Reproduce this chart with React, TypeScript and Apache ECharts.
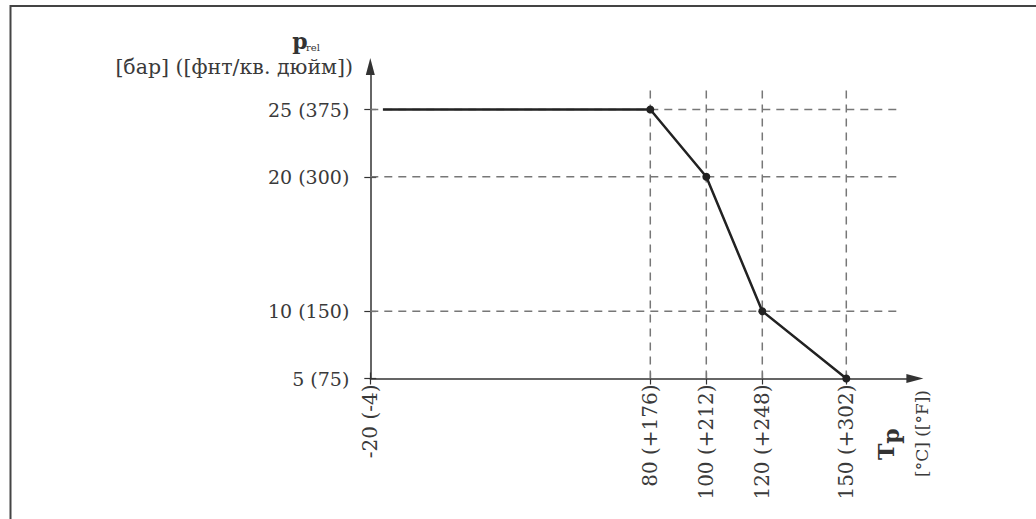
import { useEffect, useRef } from 'react';
import * as echarts from 'echarts';

// ---- data ----
const tempC = [-20, 80, 100, 120, 150];
const tempF = [-4, 176, 212, 248, 302];
const presBar = [5, 10, 20, 25];
const presPsi = [75, 150, 300, 375];
const curveT = [-15.5, 80, 100, 120, 150];
const curveP = [25, 25, 20, 10, 5];
const gridLineP = [10, 20, 25];
const gridLineT = [80, 100, 120, 150];
const xMin = -20;
const xMax = 174.5;
const yMin = 5;
const yMax = 28.2;
const gridEndT = 168.5;
const gridEndP = 26.6;

const FONT = 'DejaVu Serif';
const TXT = '#3a3a3a';

const fmtT = (v: number) => {
  const i = tempC.indexOf(v);
  if (i < 0) return '';
  const f = tempF[i];
  return `${v} (${f > 0 ? '+' : ''}${f})`;
};
const fmtP = (v: number) => {
  const i = presBar.indexOf(v);
  if (i < 0) return '';
  return `${v} (${presPsi[i]})`;
};

export default function App() {
  const ref = useRef<HTMLDivElement>(null);
  useEffect(() => {
    if (!ref.current) return;
    const chart = echarts.init(ref.current, undefined, { renderer: 'svg' });
    const gridBox = { left: 370.3, right: 121.1, top: 66.5, bottom: 140.5 };
    const dash = { type: [8, 6] as any, color: '#777', width: 1.5 };
    const series: any[] = [];
    gridLineP.forEach((p) => {
      series.push({
        type: 'line', xAxisIndex: 0, yAxisIndex: 0, silent: true, z: 1,
        symbol: 'none', data: [[xMin, p], [gridEndT, p]], lineStyle: dash,
      });
    });
    gridLineT.forEach((t) => {
      series.push({
        type: 'line', xAxisIndex: 0, yAxisIndex: 0, silent: true, z: 1,
        symbol: 'none', data: [[t, yMin], [t, gridEndP]], lineStyle: dash,
      });
    });
    series.push({
      type: 'line', xAxisIndex: 0, yAxisIndex: 0, z: 3,
      data: curveT.map((t, i) => ({ value: [t, curveP[i]], symbol: i === 0 ? 'none' : 'circle' })),
      symbolSize: 8,
      itemStyle: { color: '#222' },
      lineStyle: { color: '#222', width: 2.5 },
    });
    // dummy for second grid
    series.push({ type: 'line', xAxisIndex: 1, yAxisIndex: 1, data: [], silent: true });

    const axisLine = {
      show: true,
      onZero: false,
      symbol: ['none', 'triangle'],
      symbolSize: [9, 17],
      lineStyle: { color: '#333', width: 1.5 },
    };
    const tickStyle = { color: '#333', width: 1.2 };

    chart.setOption({
      animation: false,
      backgroundColor: '#fff',
      grid: [
        { ...gridBox, outerBoundsMode: 'none' },
        { ...gridBox, outerBoundsMode: 'none' },
      ],
      xAxis: [
        {
          type: 'value', gridIndex: 0, min: xMin, max: xMax,
          axisLine, splitLine: { show: false },
          axisTick: { show: true, customValues: tempC, length: 6, lineStyle: tickStyle },
          axisLabel: {
            fontFamily: FONT, fontSize: 20, color: TXT,
            customValues: tempC, rotate: 90, margin: 6, formatter: fmtT,
          },
        },
        {
          type: 'value', gridIndex: 1, min: xMin, max: xMax,
          axisLine: { show: false, onZero: false }, splitLine: { show: false },
          axisTick: { show: true, inside: true, customValues: tempC, length: 6, lineStyle: tickStyle },
          axisLabel: { show: false },
        },
      ],
      yAxis: [
        {
          type: 'value', gridIndex: 0, min: yMin, max: yMax,
          axisLine, splitLine: { show: false },
          axisTick: { show: true, customValues: presBar, length: 6, lineStyle: tickStyle },
          axisLabel: {
            fontFamily: FONT, fontSize: 19, color: TXT,
            customValues: presBar, margin: 21, formatter: fmtP,
          },
        },
        {
          type: 'value', gridIndex: 1, min: yMin, max: yMax,
          axisLine: { show: false, onZero: false }, splitLine: { show: false },
          axisTick: { show: true, inside: true, customValues: presBar, length: 6, lineStyle: tickStyle },
          axisLabel: { show: false },
        },
      ],
      series,
      graphic: [
        {
          type: 'rect', silent: true,
          shape: { x: 10.5, y: 6, width: 1100, height: 600 },
          style: { fill: 'none', stroke: '#444', lineWidth: 2 },
        },
        {
          type: 'text', x: 300, y: 40.5,
          style: { text: 'p', font: `bold 22px "${FONT}"`, fill: '#333', textAlign: 'center', textVerticalAlign: 'middle' },
        },
        {
          type: 'text', x: 306, y: 47,
          style: { text: 'rel', font: `10px "${FONT}"`, fill: '#333', textAlign: 'left', textVerticalAlign: 'middle' },
        },
        {
          type: 'text', x: 353, y: 67,
          style: { text: '[бар] ([фнт/кв. дюйм])', font: `20.5px "${FONT}"`, fill: TXT, textAlign: 'right', textVerticalAlign: 'middle' },
        },
        {
          type: 'text', x: 886, y: 460, rotation: Math.PI / 2,
          style: {
            text: '{t|T}{s|p}',
            textAlign: 'left', textVerticalAlign: 'middle',
            rich: {
              t: { font: `bold 22px "${FONT}"`, fill: '#333' },
              s: { font: `bold 22px "${FONT}"`, fill: '#333', padding: [10, 0, 0, 0] },
            },
          },
        },
        {
          type: 'text', x: 922, y: 477, rotation: Math.PI / 2,
          style: { text: '[°C] ([°F])', font: `17px "${FONT}"`, fill: TXT, textAlign: 'left', textVerticalAlign: 'middle' },
        },
      ],
    });
    return () => chart.dispose();
  }, []);
  return (
    <div
      ref={ref}
      style={{ position: 'fixed', left: 0, top: 0, width: 1036, height: 519, background: '#fff' }}
    />
  );
}
